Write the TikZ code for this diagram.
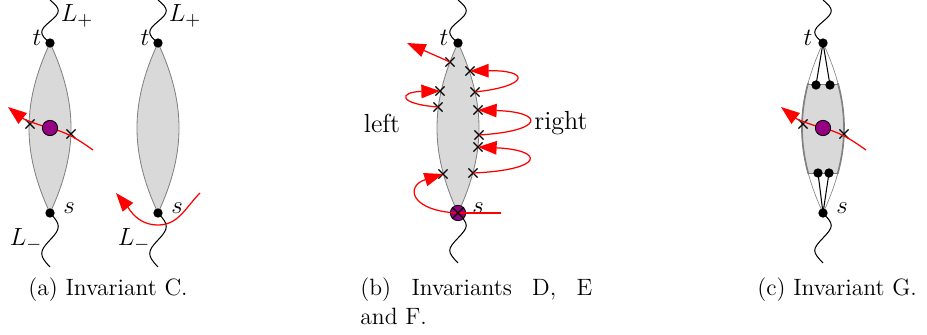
\documentclass[tikz,border=0pt]{standalone}
\usetikzlibrary{arrows.meta,shapes.misc,backgrounds}
\definecolor{pur}{RGB}{150,0,130}
\definecolor{lensgray}{RGB}{217,217,217}
\newcommand\topwave[3]{\draw[waveline] (#1) .. controls +(-11,-9.1) and +(-11,9.1) .. (#2) .. controls +(11,-9.1) and +(11,9.1) .. (#3);}
\newcommand\botwave[3]{\draw[waveline] (#1) .. controls +(11,11.5) and +(11,-11.5) .. (#2) .. controls +(-11,11.5) and +(-11,-11.5) .. (#3);}
\begin{document}
\begin{tikzpicture}[x=0.483pt,y=-0.483pt,
 dot/.style={circle,fill=black,inner sep=0pt,minimum size=4.5pt},
 xmark/.style={cross out,draw=black,line width=0.6pt,inner sep=0pt,minimum size=3.8pt},
 pcirc/.style={circle,draw=black,line width=0.4pt,fill=pur,inner sep=0pt,minimum size=7.4pt},
 lens/.style={fill=lensgray,draw=gray,line width=0.4pt},
 waveline/.style={line width=0.5pt},
 redpath/.style={red,line width=0.6pt},
 redarrow/.style={redpath,-{Triangle[length=9pt,width=6.5pt]}},
 lab/.style={font=\fontsize{12.6}{15}\selectfont,inner sep=0pt},
 captext/.style={anchor=base west,inner sep=0pt,font=\fontsize{11.4}{14}\selectfont}
]
\useasboundingbox (0,0) rectangle (927,335);

% ---------- panel (a), first ----------
\node[dot] (ta) at (50,43) {};
\node[dot] (sa) at (50,213) {};
\coordinate (ta mid) at (50,21.5);
\coordinate (ta top) at (50,0);
\coordinate (sa mid) at (50,240);
\coordinate (sa bot) at (50,267);
\begin{scope}[on background layer]
\draw[lens] (ta.center) to[bend right=25] (sa.center) to[bend right=25] (ta.center);
\end{scope}
\topwave{ta.center}{ta mid}{ta top}
\botwave{sa.center}{sa mid}{sa bot}
\node[lab] (ta lab) at (37,38) {$t$};
\node[lab] (sa lab) at (69,208) {$s$};
\node[lab] (La plus) at (77,16) {$L_+$};
\node[lab] (La minus) at (26,240) {$L_-$};
\coordinate (ra start) at (93,150);
\coordinate (ra tip) at (8,107);
\node[xmark] (xa1) at (30,124) {};
\node[xmark] (xa2) at (71,134) {};
\draw[redarrow] (ra start) to[out=145,in=-15] (50,128) to[out=165,in=-38] (ra tip);
\node[pcirc] (pa) at (50,128) {};

% ---------- panel (a), second ----------
\node[dot] (tb) at (158,43) {};
\node[dot] (sb) at (158,213) {};
\coordinate (tb mid) at (158,21.5);
\coordinate (tb top) at (158,0);
\coordinate (sb mid) at (158,240);
\coordinate (sb bot) at (158,267);
\begin{scope}[on background layer]
\draw[lens] (tb.center) to[bend right=25] (sb.center) to[bend right=25] (tb.center);
\end{scope}
\topwave{tb.center}{tb mid}{tb top}
\botwave{sb.center}{sb mid}{sb bot}
\node[lab] (tb lab) at (145,38) {$t$};
\node[lab] (sb lab) at (177,208) {$s$};
\node[lab] (Lb plus) at (185,16) {$L_+$};
\node[lab] (Lb minus) at (134,240) {$L_-$};
\coordinate (rb start) at (200,193);
\coordinate (rb low) at (158,225);
\coordinate (rb tip) at (116,193);
\draw[redarrow] (rb start) to[out=-135,in=0] (rb low) to[out=180,in=-50] (rb tip);

% ---------- panel (b) ----------
\node[dot] (tc) at (458,43) {};
\coordinate (sc) at (458,213);
\coordinate (tc mid) at (458,21.5);
\coordinate (tc top) at (458,0);
\coordinate (sc mid) at (458,238);
\coordinate (sc bot) at (458,263);
\begin{scope}[on background layer]
\draw[lens] (tc.center) to[bend right=25] (sc) to[bend right=25] (tc.center);
\end{scope}
\topwave{tc.center}{tc mid}{tc top}
\botwave{sc}{sc mid}{sc bot}
\node[lab] (tc lab) at (444,38) {$t$};
\node[lab] (sc lab) at (478,208) {$s$};
\node[lab] (leftlab) at (382,123) {left};
\node[lab] (rightlab) at (561,123) {right};
\node[xmark] (t1) at (450,62) {};
\node[xmark] (l1) at (440,91) {};
\node[xmark] (l2) at (438,107) {};
\node[xmark] (l3) at (443,174) {};
\node[xmark] (r1) at (470,71) {};
\node[xmark] (r2) at (475,92) {};
\node[xmark] (r3) at (478,110) {};
\node[xmark] (r4) at (479,135) {};
\node[xmark] (r5) at (478,147) {};
\node[xmark] (r6) at (473,173) {};
\coordinate (tc tip) at (407,43);
\coordinate (sc end) at (501,213);
\draw[redarrow] (t1.center) -- (tc tip);
\draw[redarrow] (r2.center) .. controls (530,86) and (530,70) .. (r1.center);
\draw[redarrow] (r4.center) .. controls (545,131) and (545,112) .. (r3.center);
\draw[redarrow] (r6.center) .. controls (545,170) and (545,150) .. (r5.center);
\draw[redarrow] (l2.center) .. controls (398,104) and (398,92) .. (l1.center);
\node[pcirc] (pc) at (sc) {};
\draw[redarrow] (pc.center) .. controls (410,211) and (405,186) .. (l3.center);
\draw[redpath] (pc.center) -- (sc end);
\node[xmark,minimum size=5pt] (xc) at (sc) {};

% ---------- panel (c) ----------
\node[dot] (td) at (823,43) {};
\node[dot] (sd) at (823,213) {};
\coordinate (td mid) at (823,21.5);
\coordinate (td top) at (823,0);
\coordinate (sd mid) at (823,238);
\coordinate (sd bot) at (823,263);
\begin{scope}[on background layer]
\begin{scope}
\clip (td.center) to[bend right=25] (sd.center) to[bend right=25] (td.center);
\filldraw[fill=lensgray,draw=gray,line width=0.4pt] (780,84) rectangle (870,173);
\end{scope}
\begin{scope}
\clip (780,84) rectangle (870,173);
\draw[gray,line width=0.8pt] (td.center) to[bend right=25] (sd.center) to[bend right=25] (td.center);
\end{scope}
\draw[gray,line width=0.3pt] (td.center) to[bend right=25] (sd.center) to[bend right=25] (td.center);
\end{scope}
\topwave{td.center}{td mid}{td top}
\botwave{sd.center}{sd mid}{sd bot}
\node[lab] (td lab) at (808,38) {$t$};
\node[lab] (sd lab) at (842,208) {$s$};
\node[dot] (dt1) at (816,85) {};
\node[dot] (dt2) at (830,85) {};
\node[dot] (ds1) at (818,173) {};
\node[dot] (ds2) at (829,173) {};
\draw[line width=0.5pt] (td.center) -- (dt1.center) (td.center) -- (dt2.center);
\draw[line width=0.5pt] (sd.center) -- (ds1.center) (sd.center) -- (ds2.center);
\coordinate (rd start) at (866,150);
\coordinate (rd tip) at (781,107);
\node[xmark] (xd1) at (803,124) {};
\node[xmark] (xd2) at (844,134) {};
\draw[redarrow] (rd start) to[out=145,in=-15] (823,128) to[out=165,in=-38] (rd tip);
\node[pcirc] (pd) at (823,128) {};

% ---------- captions ----------
\node[captext] (capa) at (28,295) {(a) Invariant C.};
\node[captext] (capb1) at (360,295) {\makebox[112pt][s]{(b) Invariants D, E}};
\node[captext] (capb2) at (360,324) {and F.};
\node[captext] (capc) at (757,295) {(c) Invariant G.};
\end{tikzpicture}
\end{document}
